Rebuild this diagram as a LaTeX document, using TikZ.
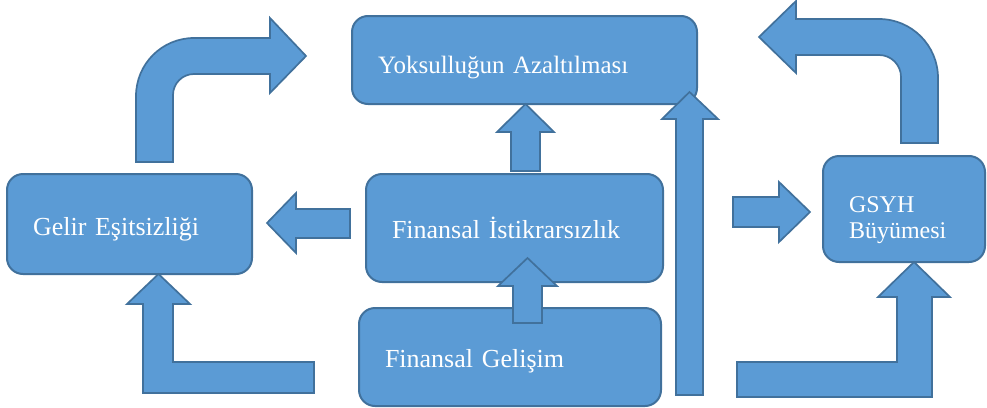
\documentclass[tikz,border=0pt]{standalone}
\usepackage{fontspec}
\setmainfont{Liberation Serif}
\definecolor{boxblue}{HTML}{5B9BD5}
\definecolor{boxline}{HTML}{41719C}
\tikzset{
  bluebox/.style={draw=boxline, fill=boxblue, line width=2pt, rounded corners=16pt, text=white,
    align=left, inner xsep=26pt, inner ysep=0pt, text height=22pt, text depth=0pt,
    font=\fontsize{26}{26}\selectfont},
  blockarrow/.style={draw=boxline, fill=boxblue, line width=1.7pt}
}

\begin{document}
\begin{tikzpicture}[x=1pt, y=-1pt]

\useasboundingbox (0,0) rectangle (987,407);

\node[bluebox, text width=293pt, minimum height=88pt, text height=26pt, font=\fontsize{25}{25}\selectfont] (yoksul) at (524.5,60) {Yoksulluğun Azaltılması};
\node[bluebox, text width=193pt, minimum height=100pt] (gelir) at (129.5,224) {Gelir Eşitsizliği};
\node[bluebox, text width=245pt, minimum height=108pt, text height=20pt] (istikrar) at (514.5,228) {Finansal İstikrarsızlık};
\node[bluebox, text width=250pt, minimum height=98pt, text height=20pt] (gelisim) at (510,357) {Finansal Gelişim};
\node[bluebox, text width=110pt, minimum height=106pt, text height=20pt, text depth=14pt, font=\fontsize{24}{26}\selectfont] (gsyh) at (904,209) {GSYH\\Büyümesi};

\draw[blockarrow] (136,162) -- (136,96) arc[start angle=180, end angle=270, radius=58] -- (270,38) -- (270,18) -- (306,56) -- (270,93) -- (270,74) -- (194,74) arc[start angle=270, end angle=180, radius=21] -- (173,162) -- cycle;

\draw[blockarrow] (901,143) -- (901,77) arc[start angle=0, end angle=-90, radius=22] -- (796,55) -- (796,73) -- (759,37) -- (796,1) -- (796,19) -- (879,19) arc[start angle=-90, end angle=0, radius=59] -- (938,143) -- cycle;

\draw[blockarrow] (511,171) -- (511,132) -- (497,132) -- (525.5,104) -- (554,132) -- (540,132) -- (540,171) -- cycle;
\draw[blockarrow] (676,395) -- (676,119) -- (662,119) -- (689.5,92) -- (718,119) -- (703,119) -- (703,395) -- cycle;
\draw[blockarrow] (350,209) -- (296,209) -- (296,193) -- (267,223) -- (296,253) -- (296,238) -- (350,238) -- cycle;
\draw[blockarrow] (733,197) -- (779,197) -- (779,182) -- (810,212) -- (779,242) -- (779,227) -- (733,227) -- cycle;

\draw[blockarrow] (143,393) -- (314,393) -- (314,362) -- (173,362) -- (173,304) -- (190,304) -- (158.5,274) -- (127,304) -- (143,304) -- cycle;
\draw[blockarrow] (737,397) -- (932,397) -- (932,297) -- (950,297) -- (914,262) -- (878,297) -- (897,297) -- (897,362) -- (737,362) -- cycle;

\draw[blockarrow] (513,323) -- (513,286) -- (498,286) -- (527.5,258) -- (557,286) -- (542,286) -- (542,323) -- cycle;

\end{tikzpicture}
\end{document}
